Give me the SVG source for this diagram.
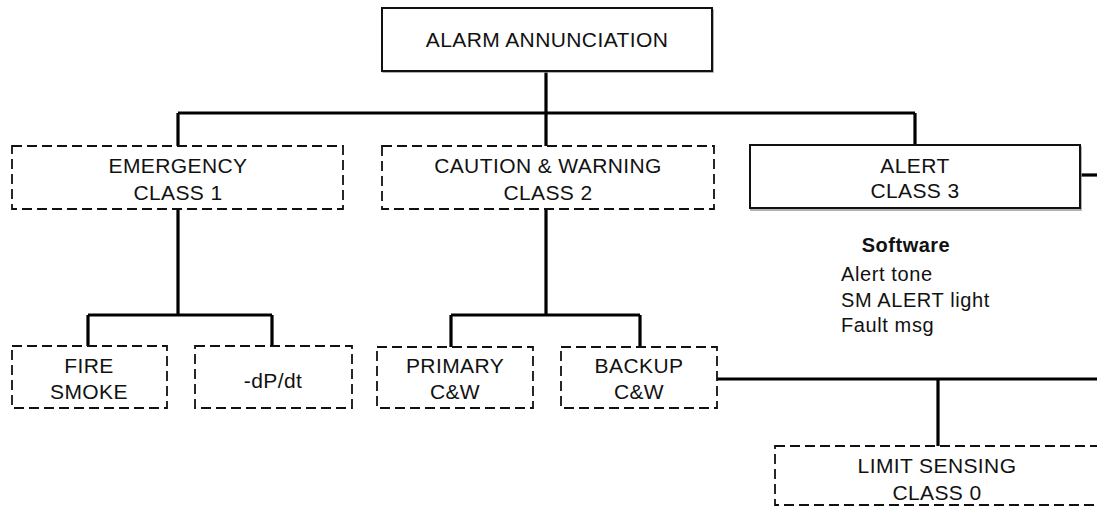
<svg xmlns="http://www.w3.org/2000/svg" width="1097" height="509" viewBox="0 0 1097 509">
<style>
text{font-family:"Liberation Sans",Arial,sans-serif;font-size:21px;letter-spacing:0.4px;fill:#111;text-anchor:middle}
.solid{fill:#fff;stroke:#111;stroke-width:2}
.dash{fill:#fff;stroke:#111;stroke-width:1.8;stroke-dasharray:10 5}
.conn{fill:none;stroke:#000;stroke-width:3.2}
.sw{font-size:20px;letter-spacing:0.6px;text-anchor:start}
.swb{font-size:20px;font-weight:bold;letter-spacing:0.5px}
</style>
<rect width="1097" height="509" fill="#fff"/>
<g id="connectors">
<path class="conn" d="M546 71V148M178 113H915M178 113V146M915 113V145"/>
<path class="conn" d="M178 209V315M88 315H272M88 315V346M272 315V346"/>
<path class="conn" d="M546 209V315M451 315H640M451 315V347M640 315V347"/>
<path class="conn" d="M1080 175H1097"/>
<path class="conn" d="M717 379H1097M938 379V446"/>
</g>
<g id="alarm-annunciation">
<rect x="383" y="10" width="330" height="62" fill="none" stroke="#999" stroke-width="1.5"/>
<rect class="solid" x="382" y="8" width="330" height="63"/>
<text x="547" y="47">ALARM ANNUNCIATION</text>
</g>
<g id="emergency">
<rect class="dash" x="12" y="146" width="331" height="63"/>
<text x="178" y="173">EMERGENCY</text>
<text x="178" y="200">CLASS 1</text>
</g>
<g id="caution-warning">
<rect class="dash" x="382" y="146" width="332" height="63"/>
<text x="548" y="173">CAUTION &amp; WARNING</text>
<text x="548" y="200">CLASS 2</text>
</g>
<g id="alert">
<rect x="751" y="147" width="330" height="63" fill="none" stroke="#999" stroke-width="1.5"/>
<rect class="solid" x="750" y="145" width="330" height="63"/>
<text x="915" y="173">ALERT</text>
<text x="915" y="198">CLASS 3</text>
</g>
<g id="software">
<text class="swb" x="906" y="252">Software</text>
<text class="sw" x="841" y="281">Alert tone</text>
<text class="sw" x="841" y="307">SM ALERT light</text>
<text class="sw" x="841" y="332">Fault msg</text>
</g>
<g id="fire-smoke">
<rect class="dash" x="12" y="346" width="155" height="62"/>
<text x="89" y="373">FIRE</text>
<text x="89" y="399">SMOKE</text>
</g>
<g id="dpdt">
<rect class="dash" x="195" y="346" width="157" height="62"/>
<text x="273" y="388">-dP/dt</text>
</g>
<g id="primary">
<rect class="dash" x="377" y="347" width="156" height="61"/>
<text x="455" y="373">PRIMARY</text>
<text x="455" y="399">C&amp;W</text>
</g>
<g id="backup">
<rect class="dash" x="561" y="347" width="156" height="61"/>
<text x="639" y="373">BACKUP</text>
<text x="639" y="399">C&amp;W</text>
</g>
<g id="limit-sensing">
<rect class="dash" x="775" y="446" width="340" height="59"/>
<text x="937" y="473">LIMIT SENSING</text>
<text x="937" y="500">CLASS 0</text>
</g>
</svg>
